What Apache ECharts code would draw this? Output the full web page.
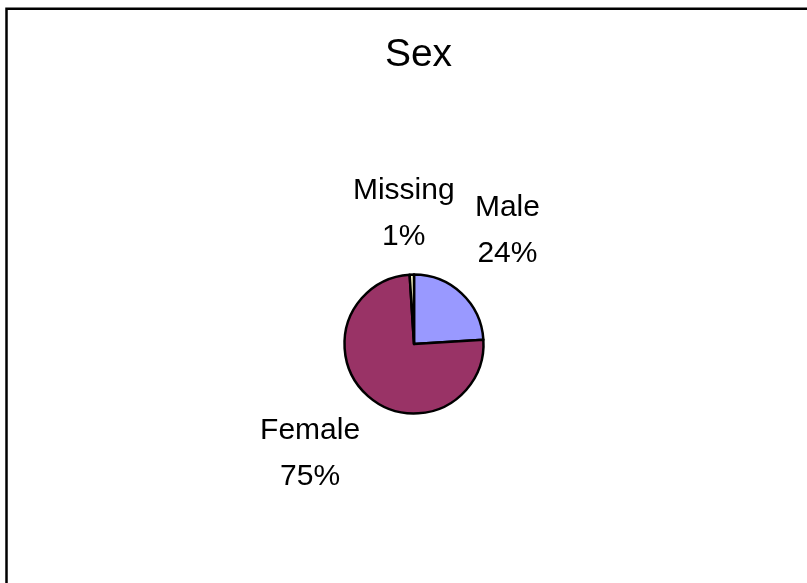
<!DOCTYPE html>
<html>
<head>
<meta charset="utf-8">
<script src="https://cdn.jsdelivr.net/npm/echarts@6/dist/echarts.min.js"></script>
<style>
  html, body { margin: 0; padding: 0; background: #fff; }
  #chart { width: 807px; height: 583px; }
</style>
</head>
<body>
<div id="chart"></div>
<script>
// Sex breakdown of respondents (percent)
const categories = ['Male', 'Female', 'Missing'];
const shares = [24, 75, 1];
const sliceColors = ['#9999FF', '#993366', '#FFFFCC'];

const FONT = "'Liberation Sans', Arial, sans-serif";
const CX = 414, CY = 344, R = 69.5;
const LABEL_GAP = 17;
// small per-label adjustments so the labels sit where a "best fit" placement puts them
const LABEL_NUDGE = [[-4, -10], [-2, -6], [-6, 4]];

// mid-angle of each slice, measured clockwise from 12 o'clock
const total = shares.reduce((s, v) => s + v, 0);
const midAngles = [];
let acc = 0;
shares.forEach(v => {
  midAngles.push((acc + v / 2) / total * 2 * Math.PI);
  acc += v;
});

const chart = echarts.init(document.getElementById('chart'), null, { renderer: 'canvas' });

chart.setOption({
  backgroundColor: '#ffffff',
  animation: false,
  graphic: [
    {
      type: 'rect',
      shape: { x: 6.5, y: 8.7, width: 900, height: 700 },
      style: { fill: 'none', stroke: '#000', lineWidth: 2.5 },
      z: 0
    },
    {
      type: 'text',
      style: {
        text: 'Sex', x: 418.5, y: 55,
        font: '39px ' + FONT, fill: '#000',
        align: 'center', verticalAlign: 'middle'
      },
      z: 10
    }
  ],
  series: [{
    type: 'pie',
    center: [CX, CY],
    radius: R,
    startAngle: 90,
    clockwise: true,
    data: categories.map((name, i) => ({
      name, value: shares[i], itemStyle: { color: sliceColors[i] }
    })),
    itemStyle: { borderColor: '#000', borderWidth: 2.5 },
    label: {
      show: true,
      position: 'outside',
      formatter: '{b}\n{d}%',
      fontFamily: FONT,
      fontSize: 30,
      lineHeight: 46,
      color: '#000',
      align: 'center'
    },
    labelLine: { show: false },
    labelLayout: function (p) {
      const i = p.dataIndex;
      const a = midAngles[i];
      const dx = Math.sin(a), dy = -Math.cos(a);
      const w = p.labelRect.width, h = p.labelRect.height;
      const d = R + LABEL_GAP + Math.abs(dx) * w / 2 + Math.abs(dy) * h / 2;
      return {
        x: CX + d * dx + LABEL_NUDGE[i][0],
        y: CY + d * dy + LABEL_NUDGE[i][1],
        align: 'center', verticalAlign: 'middle'
      };
    },
    emphasis: { disabled: true }
  }]
});
</script>
</body>
</html>
